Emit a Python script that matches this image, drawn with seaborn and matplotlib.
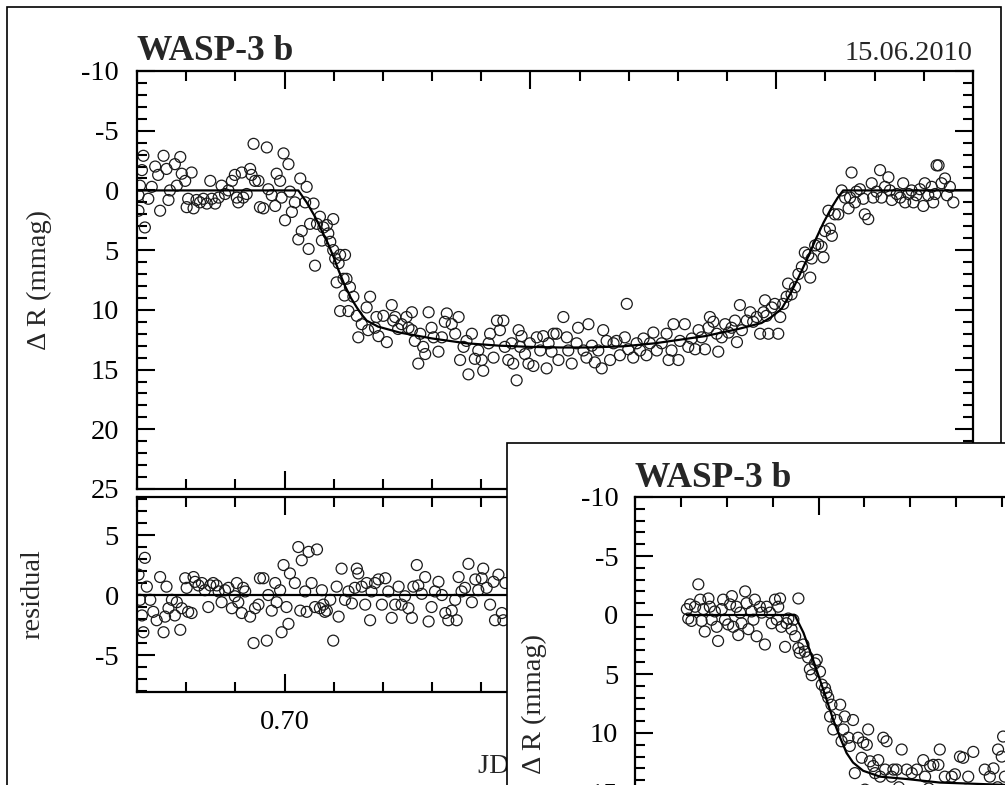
import numpy as np
import pandas as pd
import seaborn as sns
import matplotlib.pyplot as plt
from matplotlib.ticker import MultipleLocator, FormatStrFormatter
from matplotlib.patches import Rectangle
from matplotlib.transforms import Bbox, TransformedBbox

sns.set_style("ticks")
plt.rcParams["font.family"] = ["Liberation Serif", "DejaVu Serif"]
plt.rcParams["axes.unicode_minus"] = False

# ---- main light curve (JD fraction, mmag) ----
main_t = [
    0.6713, 0.6710, 0.6706, 0.6703, 0.6703, 0.6716, 0.6723, 0.6730, 0.6737, 0.6743,
    0.6747, 0.6754, 0.6760, 0.6764, 0.6767, 0.6777, 0.6781, 0.6788, 0.6791, 0.6798,
    0.6801, 0.6804, 0.6811, 0.6815, 0.6821, 0.6828, 0.6835, 0.6842, 0.6849, 0.6852,
    0.6859, 0.6866, 0.6872, 0.6879, 0.6886, 0.6893, 0.6899, 0.6903, 0.6906, 0.6913,
    0.6916, 0.6923, 0.6930, 0.6933, 0.6937, 0.6940, 0.6947, 0.6950, 0.6957, 0.6964,
    0.6967, 0.6974, 0.6981, 0.6984, 0.6991, 0.6994, 0.6998, 0.7001, 0.7008, 0.7011,
    0.7015, 0.7021, 0.7028, 0.7032, 0.7035, 0.7042, 0.7045, 0.7049, 0.7052, 0.7059,
    0.7062, 0.7066, 0.7072, 0.7076, 0.7079, 0.7086, 0.7089, 0.7093, 0.7099, 0.7099,
    0.7103, 0.7106, 0.7110, 0.7113, 0.7113, 0.7120, 0.7122,
    0.7123, 0.7126, 0.7133, 0.7140, 0.7130, 0.7147, 0.7150, 0.7157, 0.7167, 0.7174,
    0.7170, 0.7184, 0.7187, 0.7191, 0.7201, 0.7208, 0.7218, 0.7221, 0.7225, 0.7231,
    0.7238, 0.7248, 0.7252, 0.7259, 0.7259, 0.7265, 0.7272, 0.7276, 0.7282, 0.7286,
    0.7293, 0.7299, 0.7303, 0.7313, 0.7320, 0.7326, 0.7330, 0.7340, 0.7347, 0.7354,
    0.7357, 0.7364, 0.7370, 0.7374, 0.7381, 0.7387, 0.7394, 0.7401, 0.7404, 0.7415,
    0.7418, 0.7425, 0.7432, 0.7438, 0.7445, 0.7448, 0.7455, 0.7462, 0.7465, 0.7472,
    0.7476, 0.7479, 0.7482, 0.7489, 0.7496, 0.7499, 0.7506, 0.7513, 0.7520, 0.7526,
    0.7533, 0.7537, 0.7543, 0.7547,
    0.7553, 0.7557, 0.7567, 0.7574, 0.7577, 0.7584, 0.7594, 0.7597, 0.7608, 0.7614,
    0.7618, 0.7625, 0.7631, 0.7638, 0.7645, 0.7648, 0.7655, 0.7662, 0.7669, 0.7675,
    0.7682, 0.7692, 0.7696, 0.7699, 0.7709, 0.7716, 0.7723, 0.7730, 0.7736, 0.7743,
    0.7750, 0.7757, 0.7767, 0.7777, 0.7781, 0.7787, 0.7791, 0.7801, 0.7804, 0.7814,
    0.7821, 0.7828, 0.7835, 0.7842, 0.7848, 0.7855, 0.7862, 0.7865, 0.7872, 0.7879,
    0.7882, 0.7889, 0.7896, 0.7903, 0.7909, 0.7916, 0.7920, 0.7926, 0.7930, 0.7940,
    0.7947, 0.7953, 0.7960, 0.7967, 0.7974,
    0.7977, 0.7980, 0.7984, 0.7991, 0.7997, 0.8004, 0.8008, 0.8014, 0.8021, 0.8024,
    0.8031, 0.8038, 0.8045, 0.8052, 0.8058, 0.8065, 0.8069, 0.8072, 0.8079, 0.8085,
    0.8092, 0.8096, 0.8099, 0.8106, 0.8109, 0.8113, 0.8119, 0.8126, 0.8133, 0.8140,
    0.8147, 0.8150, 0.8153, 0.8160, 0.8163, 0.8170, 0.8177, 0.8180, 0.8187, 0.8194,
    0.8197, 0.8204, 0.8211, 0.8214, 0.8221, 0.8228, 0.8231, 0.8235, 0.8245, 0.8252,
    0.8258, 0.8262, 0.8269, 0.8275, 0.8279, 0.8285, 0.8292, 0.8299, 0.8302, 0.8309,
    0.8316, 0.8319, 0.8323, 0.8326, 0.8330, 0.8336, 0.8343, 0.8347, 0.8353, 0.8360,
]
main_v = [
    -2.9, -1.7, -0.4, 0.4, 1.7, 3.1, 0.7, -0.3, -2.0, -1.3,
    1.7, -2.9, -1.8, 0.8, 0.0, -2.2, -0.4, -2.8, -1.4, -0.8,
    1.4, 0.7, -1.5, 1.5, 0.8, 1.0, 0.7, 1.1, -0.8, 0.7,
    1.1, 0.6, -0.4, 0.3, 0.0, -0.8, -1.3, 0.6, 1.0, -1.5,
    0.6, 0.3, -1.8, -1.3, -3.9, -0.8, -0.8, 1.4, 1.5, -3.6,
    -0.1, 0.4, 1.3, -1.4, -0.8, 0.6, -3.1, 2.5, -2.2, 0.1,
    1.8, 1.0, 4.1, -1.0, 3.4, 1.0, -0.3, 4.9, 2.8, 1.1,
    6.3, 2.8, 2.2, 4.2, 3.1, 2.9, 3.6, 4.3, 2.4, 5.0,
    5.7, 7.7, 6.1, 5.4, 10.1, 7.4, 8.8,
    5.4, 7.4, 8.1, 8.9, 10.1, 10.5, 12.3, 11.2, 9.8, 8.9,
    11.7, 11.5, 10.6, 12.2, 10.5, 12.7, 9.6, 10.9, 10.6, 11.6,
    11.2, 10.6, 11.5, 10.2, 11.7, 12.6, 14.5, 12.0, 13.1, 13.7,
    10.2, 11.5, 12.3, 13.5, 12.3, 11.0, 10.3, 11.2, 12.0, 10.6,
    14.2, 13.1, 12.6, 15.4, 12.0, 14.1, 13.4, 14.2, 15.1, 12.8,
    12.0, 14.0, 10.9, 11.7, 10.9, 13.1, 14.2, 12.8, 14.5, 15.9,
    11.7, 13.1, 12.2, 13.7, 14.5, 12.8, 14.7, 12.3, 13.4, 12.2,
    14.9, 12.8, 13.5, 12.0,
    12.0, 14.2, 10.6, 12.3, 13.4, 14.5, 12.8, 11.5, 13.4, 14.0,
    11.2, 13.0, 14.4, 13.4, 14.9, 11.7, 12.6, 14.2, 12.8, 12.6,
    13.8, 12.3, 9.5, 13.3, 14.0, 12.8, 13.4, 12.4, 13.8, 12.8,
    11.9, 13.4, 12.8, 12.0, 14.2, 13.4, 11.2, 14.2, 12.6, 11.2,
    13.1, 12.4, 13.3, 11.7, 12.3, 13.3, 11.5, 10.6, 11.0, 12.0,
    13.5, 12.3, 11.2, 11.9, 11.5, 10.9, 12.7, 9.6, 11.7, 10.9,
    10.2, 11.0, 10.6, 12.0, 10.2,
    9.2, 10.5, 12.0, 9.8, 9.5, 12.0, 10.6, 9.5, 8.9, 7.8,
    8.7, 8.1, 7.0, 6.4, 5.2, 5.4, 7.3, 5.7, 4.6, 4.5,
    4.7, 5.6, 3.4, 1.7, 3.2, 3.8, 2.0, 2.0, 0.0, 0.6,
    1.5, 0.6, -1.5, 1.0, 0.1, -0.1, 0.7, 2.0, 2.4, -0.6,
    0.6, 0.1, -1.7, 0.6, -0.3, -1.1, 0.0, 0.8, 0.3, 0.6,
    -0.6, 1.0, 0.3, 0.0, 1.0, 0.4, -0.1, 1.3, -0.6, 0.4,
    -0.3, 1.0, 0.3, -2.1, -2.1, -0.6, -1.0, 0.4, -0.3, 1.0,
]

# fitted transit model
model_t = [0.670, 0.7028, 0.7045, 0.7062, 0.7076, 0.7089, 0.7100, 0.7110, 0.7123,
           0.7135, 0.7147, 0.7157, 0.7167, 0.7190, 0.7234, 0.7301, 0.7370, 0.7437,
           0.7500, 0.7560, 0.7620, 0.7690, 0.7753, 0.7855, 0.7923, 0.7970, 0.7990,
           0.8011, 0.8028, 0.8045, 0.8062, 0.8079, 0.8096, 0.8113, 0.8125, 0.8136, 0.840]
model_v = [0.0, 0.0, 1.0, 2.2, 3.4, 4.5, 5.6, 6.7, 8.0,
           9.0, 9.8, 10.4, 10.9, 11.4, 11.9, 12.4, 12.8, 13.0,
           13.1, 13.15, 13.15, 13.05, 12.8, 12.2, 11.6, 11.1, 10.6,
           9.9, 8.7, 7.3, 5.8, 4.2, 2.7, 1.4, 0.6, 0.0, 0.0]

# residuals (visible part)
res_t = [
    0.6703, 0.6706, 0.6710, 0.6713, 0.6716, 0.6720, 0.6727, 0.6733, 0.6740, 0.6747,
    0.6754, 0.6757, 0.6760, 0.6764, 0.6771, 0.6777, 0.6781, 0.6788, 0.6791, 0.6798,
    0.6801, 0.6804, 0.6811, 0.6815, 0.6818, 0.6825, 0.6832, 0.6838, 0.6845, 0.6849,
    0.6855, 0.6862, 0.6866, 0.6872, 0.6879, 0.6886, 0.6893, 0.6899, 0.6903, 0.6906,
    0.6913, 0.6916, 0.6920, 0.6930, 0.6937, 0.6940, 0.6947, 0.6950, 0.6957, 0.6964,
    0.6967, 0.6974, 0.6981, 0.6984, 0.6991, 0.6994, 0.6998, 0.7004, 0.7008, 0.7011,
    0.7021, 0.7028, 0.7032, 0.7035, 0.7042, 0.7045, 0.7049, 0.7055, 0.7062, 0.7066,
    0.7072, 0.7076, 0.7079, 0.7082, 0.7086, 0.7093, 0.7099, 0.7106, 0.7110, 0.7116,
    0.7123, 0.7130, 0.7137, 0.7143, 0.7147, 0.7150, 0.7157, 0.7164, 0.7167, 0.7174,
    0.7177, 0.7184, 0.7191, 0.7198, 0.7205, 0.7211, 0.7218, 0.7225, 0.7232, 0.7238,
    0.7245, 0.7252, 0.7259, 0.7262, 0.7269, 0.7272, 0.7279, 0.7286, 0.7293, 0.7299,
    0.7306, 0.7313, 0.7320, 0.7327, 0.7333, 0.7340, 0.7347, 0.7350, 0.7354, 0.7360,
    0.7367, 0.7374, 0.7381, 0.7388, 0.7394, 0.7401, 0.7404, 0.7411, 0.7418, 0.7425,
    0.7428, 0.7435, 0.7442, 0.7445, 0.7449,
]
res_v = [
    1.7, -0.4, -1.7, -3.1, 3.1, 0.7, -0.4, -1.4, -2.1, 1.5,
    -3.1, -1.8, 0.7, -1.1, -0.4, -1.7, -0.6, -2.9, -1.1, 1.4,
    0.6, -1.4, -1.5, 1.5, 1.1, 0.8, 1.0, 0.4, -1.0, 0.8,
    1.0, 0.8, 0.3, -0.6, 0.4, 0.6, -1.1, -0.1, 1.0, -0.6,
    -1.5, 0.6, 0.3, -1.8, -4.0, -1.1, -0.8, 1.4, 1.4, -3.8,
    0.0, -1.3, 1.0, -0.6, 0.4, -3.1, 2.5, -1.0, -2.4, 1.8,
    1.0, 4.0, -1.3, 2.9, 0.3, -1.4, 3.6, 1.0, -1.0, 3.8,
    -1.1, 0.4, -0.8, -1.4, -1.3, -0.4, -3.8, 0.7, -1.8, 2.2,
    -0.4, 0.3, -0.7, 0.6, 2.2, 1.8, 0.7, -0.8, 1.0, -2.1,
    0.3, 1.0, 1.3, -0.8, 1.4, 0.3, -1.9, -0.8, 0.7, -0.8,
    -0.1, -1.1, -1.9, 0.7, 2.5, 0.8, 0.1, 1.5, -2.2, -1.0,
    0.3, 1.1, 0.0, -1.5, -2.1, -1.3, -0.4, -2.1, 1.5, 0.3,
    0.6, 2.6, -0.6, 1.3, 0.4, 1.4, 2.2, 0.6, -0.8, 1.1,
    -2.1, 1.7, -1.5, -2.1, 1.0,
]

# second light curve (overlapping figure)
ins_t = [
    0.6713, 0.6716, 0.6720, 0.6723, 0.6731, 0.6738, 0.6742, 0.6745, 0.6749, 0.6752,
    0.6760, 0.6763, 0.6767, 0.6774, 0.6778, 0.6781, 0.6789, 0.6792, 0.6796, 0.6803,
    0.6807, 0.6811, 0.6814, 0.6821, 0.6825, 0.6829, 0.6832, 0.6840, 0.6843, 0.6847,
    0.6854, 0.6858, 0.6861, 0.6865, 0.6872, 0.6876, 0.6883, 0.6887, 0.6894, 0.6898,
    0.6905, 0.6909, 0.6912, 0.6916, 0.6919, 0.6927, 0.6930, 0.6934, 0.6941, 0.6945,
    0.6949, 0.6956, 0.6956, 0.6959, 0.6967, 0.6970, 0.6977, 0.6981, 0.6985, 0.6992,
    0.6996, 0.7003, 0.7007, 0.7014, 0.7017, 0.7021, 0.7025, 0.7028, 0.7032, 0.7039,
    0.7047, 0.7050, 0.7054, 0.7057, 0.7065, 0.7068, 0.7075, 0.7079, 0.7086, 0.7094,
    0.7097, 0.7105, 0.7108, 0.7112, 0.7119, 0.7123, 0.7130, 0.7134, 0.7141, 0.7145,
    0.7148, 0.7159, 0.7163, 0.7170, 0.7181, 0.7192, 0.7203, 0.7214, 0.7228, 0.7232,
    0.7243, 0.7250, 0.7261, 0.7264, 0.7275, 0.7290, 0.7297, 0.7308, 0.7315, 0.7326,
    0.7337, 0.7362, 0.7373, 0.7381, 0.7391, 0.7399, 0.7402, 0.7406,
    0.7101, 0.7140, 0.7175, 0.7210, 0.7240, 0.7280, 0.7320, 0.7355, 0.7390,
]
ins_v = [
    -0.5, 0.3, -0.9, 0.5, -0.7, -2.6, -1.3, 0.5, -0.5, 1.4,
    -1.4, -0.7, 0.4, -0.3, 1.0, 2.2, -0.5, -1.3, 0.4, 0.8,
    -0.9, -1.6, 1.0, -0.7, 1.7, -0.2, 0.7, -2.0, -1.0, 1.2,
    -0.3, 0.4, -1.3, 1.8, -0.7, -0.2, 2.5, -0.7, -0.2, 0.7,
    -1.3, 0.4, -0.7, -1.4, 1.0, 2.7, 0.7, 0.3, 1.2, 0.4,
    1.8, -1.4, 2.8, 3.2, 2.5, 3.1, 3.6, 4.6, 5.1, 4.1,
    3.8, 4.8, 5.9, 6.2, 6.6, 7.0, 8.6, 7.6, 9.7, 8.9,
    7.6, 10.7, 9.7, 8.6, 10.4, 11.1, 8.9, 13.4, 10.4, 12.1,
    10.8, 11.0, 9.7, 12.4, 12.8, 13.4, 12.3, 13.7, 10.4, 13.1,
    10.7, 13.7, 13.1, 13.1, 11.4, 13.1, 13.4, 13.1, 12.3, 13.7,
    12.8, 12.7, 12.7, 11.4, 13.7, 13.7, 13.5, 12.0, 12.1, 13.7,
    11.6, 13.1, 13.7, 13.0, 11.4, 12.0, 10.3, 13.7,
    14.8, 15.2, 14.6, 15.0, 14.7, 15.3, 14.9, 15.1, 14.6,
]
ins_model_t = [0.6713, 0.6948, 0.6967, 0.6988, 0.7010, 0.7032, 0.7047, 0.7061,
               0.7075, 0.7097, 0.7134, 0.7192, 0.7264, 0.7337, 0.7406, 0.7600]
ins_model_v = [0.0, 0.0, 1.5, 3.8, 6.3, 8.9, 10.4, 11.7,
               12.5, 13.2, 13.7, 13.9, 14.2, 14.3, 14.4, 14.5]

main_df = pd.DataFrame({"t": main_t, "v": main_v})
res_df = pd.DataFrame({"t": res_t, "v": res_v})
ins_df = pd.DataFrame({"t": ins_t, "v": ins_v})

W, H = 1005, 785
FS = 20.5
fig = plt.figure(figsize=(W / 100, H / 100), dpi=100)
fig.patch.set_facecolor("white")


def box(l, t, r, b):
    return [l / W, 1 - b / H, (r - l) / W, (b - t) / H]


def style(a, pad=13):
    for s in a.spines.values():
        s.set_visible(True)
        s.set_linewidth(1.6)
        s.set_color("black")
    a.tick_params(which="both", direction="in", top=True, right=True,
                  width=1.5, colors="black", labelsize=FS, pad=pad)
    a.tick_params(which="major", length=13)
    a.tick_params(which="minor", length=7)
    a.set_facecolor("white")
    a.set_xlabel("")
    a.set_ylabel("")


pts = dict(s=62, facecolor="none", edgecolor="#1a1a1a", linewidth=0.9, legend=False)

# outer frame of the first figure
fig.add_artist(Rectangle((7 / W, -0.05), (1001 - 7) / W, 1 - 7 / H + 0.05,
                         transform=fig.transFigure, facecolor="none",
                         edgecolor="black", linewidth=1.2, zorder=1))

ax = fig.add_axes(box(137, 71, 973, 489))
sns.scatterplot(data=main_df, x="t", y="v", ax=ax, **pts)
sns.lineplot(x=model_t, y=model_v, ax=ax, color="black", linewidth=1.6)
style(ax)
ax.set_xlim(0.67, 0.84)
ax.set_ylim(25, -10)
ax.xaxis.set_major_locator(MultipleLocator(0.05))
ax.xaxis.set_minor_locator(MultipleLocator(0.01))
ax.yaxis.set_major_locator(MultipleLocator(5))
ax.yaxis.set_minor_locator(MultipleLocator(1))
ax.tick_params(labelbottom=False)
ax.set_title("WASP-3 b", loc="left", fontsize=25.5, fontweight="bold", pad=7)
ax.set_title("15.06.2010", loc="right", fontsize=FS, pad=8)
ax.set_ylabel("Δ R (mmag)", fontsize=FS)
ax.yaxis.set_label_coords(-0.102, 0.5)

axr = fig.add_axes(box(137, 497, 973, 692))
sns.scatterplot(data=res_df, x="t", y="v", ax=axr, **pts)
axr.axhline(0, color="black", linewidth=1.6)
style(axr)
axr.set_xlim(0.67, 0.84)
axr.set_ylim(-8.08, 8.17)
axr.xaxis.set_major_locator(MultipleLocator(0.05))
axr.xaxis.set_minor_locator(MultipleLocator(0.01))
axr.xaxis.set_major_formatter(FormatStrFormatter("%.2f"))
axr.yaxis.set_major_locator(MultipleLocator(5))
axr.yaxis.set_minor_locator(MultipleLocator(1))
axr.set_ylabel("residual", fontsize=FS)
axr.yaxis.set_label_coords(-0.110, 0.5)
axr.set_xlabel("JD 2455363+", fontsize=FS)
axr.xaxis.set_label_coords(0.5, -0.32)

# texts of the first figure that run under the pasted figure are cut at its edge
visible = TransformedBbox(Bbox([[0, 0], [507 / W, 1]]), fig.transFigure)
for txt in axr.get_xticklabels() + [axr.xaxis.label]:
    txt.set_clip_box(visible)
    txt.set_clip_on(True)

# second figure pasted over the lower right corner
fig.add_artist(Rectangle((507 / W, -0.05), 1.0, 1 - 443 / H + 0.05,
                         transform=fig.transFigure, facecolor="white",
                         edgecolor="black", linewidth=1.2, zorder=5))

axi = fig.add_axes([635 / W, 1 - (497 + 413) / H, 780 / W, 413 / H], zorder=6)
sns.scatterplot(data=ins_df, x="t", y="v", ax=axi, **pts)
sns.lineplot(x=ins_model_t, y=ins_model_v, ax=axi, color="black", linewidth=1.6)
style(axi, pad=12)
axi.set_xlim(0.66, 0.66 + 780 / 4590)
axi.set_ylim(25, -10)
axi.xaxis.set_major_locator(MultipleLocator(0.05))
axi.xaxis.set_minor_locator(MultipleLocator(0.01))
axi.yaxis.set_major_locator(MultipleLocator(5))
axi.yaxis.set_minor_locator(MultipleLocator(1))
axi.tick_params(labelbottom=False)
axi.set_title("WASP-3 b", loc="left", fontsize=25.5, fontweight="bold", pad=7)
axi.set_ylabel("Δ R (mmag)", fontsize=FS)
axi.yaxis.set_label_coords(-0.113, 0.5)

fig.savefig("out.png", dpi=100)
